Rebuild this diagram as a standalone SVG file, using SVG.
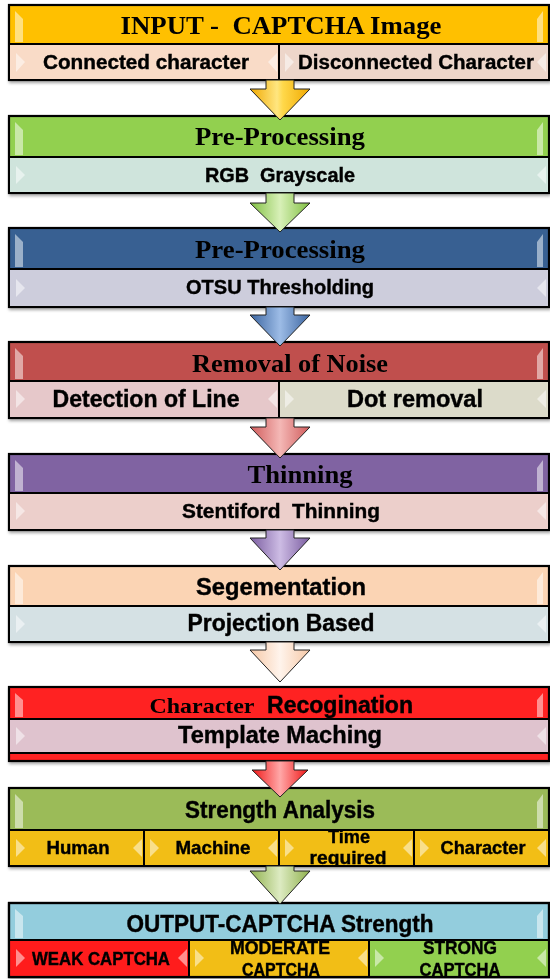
<svg xmlns="http://www.w3.org/2000/svg" width="550" height="979" viewBox="0 0 550 979">
<style>
.box{stroke:#000;stroke-width:2.2}
.cell{stroke:#000;stroke-width:2}
.hl{fill:#fff;opacity:0.5}
.serif{font-family:"Liberation Serif","Times New Roman",serif;font-weight:bold;fill:#000;white-space:pre}
.sans{font-family:"Liberation Sans",Arial,sans-serif;font-weight:bold;fill:#000;stroke:#000;stroke-width:0.4;white-space:pre}
.arrow{stroke:#222;stroke-width:1}
</style>
<defs>
<filter id="sh" x="-5%" y="-20%" width="110%" height="140%">
<feDropShadow dx="1" dy="2" stdDeviation="1.5" flood-color="#000" flood-opacity="0.35"/>
</filter>
<linearGradient id="gY" x1="0" x2="1" y1="0" y2="0"><stop offset="0" stop-color="#F0A800"/><stop offset="0.45" stop-color="#FFE680"/><stop offset="0.55" stop-color="#FFD84A"/><stop offset="1" stop-color="#F0A800"/></linearGradient>
<linearGradient id="gG" x1="0" x2="1" y1="0" y2="0"><stop offset="0" stop-color="#7FBF40"/><stop offset="0.5" stop-color="#D8F0B8"/><stop offset="1" stop-color="#7FBF40"/></linearGradient>
<linearGradient id="gB" x1="0" x2="1" y1="0" y2="0"><stop offset="0" stop-color="#3A64A0"/><stop offset="0.5" stop-color="#9DBCE6"/><stop offset="1" stop-color="#3A64A0"/></linearGradient>
<linearGradient id="gR" x1="0" x2="1" y1="0" y2="0"><stop offset="0" stop-color="#D05A5A"/><stop offset="0.5" stop-color="#F4B8B6"/><stop offset="1" stop-color="#D05A5A"/></linearGradient>
<linearGradient id="gP" x1="0" x2="1" y1="0" y2="0"><stop offset="0" stop-color="#7A5CA0"/><stop offset="0.5" stop-color="#CDBCE4"/><stop offset="1" stop-color="#7A5CA0"/></linearGradient>
<linearGradient id="gO" x1="0" x2="1" y1="0" y2="0"><stop offset="0" stop-color="#F6C8A6"/><stop offset="0.5" stop-color="#FFF4EC"/><stop offset="1" stop-color="#F6C8A6"/></linearGradient>
<linearGradient id="gRR" x1="0" x2="1" y1="0" y2="0"><stop offset="0" stop-color="#F01818"/><stop offset="0.5" stop-color="#FFA8A8"/><stop offset="1" stop-color="#F01818"/></linearGradient>
<linearGradient id="gOG" x1="0" x2="1" y1="0" y2="0"><stop offset="0" stop-color="#8FB04C"/><stop offset="0.5" stop-color="#DDEBC2"/><stop offset="1" stop-color="#8FB04C"/></linearGradient>
<clipPath id="cMod"><rect x="190" y="941" width="178" height="36"/></clipPath>
<clipPath id="cStr"><rect x="370" y="941" width="178" height="36"/></clipPath>
<clipPath id="cTime"><rect x="280" y="831" width="133" height="35"/></clipPath>
</defs>

<g id="node-input" filter="url(#sh)">
<rect class="box" x="9" y="5" width="540" height="75" fill="#FFC000"/>
<rect class="cell" x="9" y="44" width="270" height="36" fill="#F9DBC7"/>
<rect class="cell" x="279" y="44" width="270" height="36" fill="#EDD6CA"/>
<polygon class="hl" points="15,11 23,19 23,42 15,42"/><polygon class="hl" points="543,11 537,19 537,42 543,42"/>
<polygon class="hl" points="16,53 25,62 16,72"/><polygon class="hl" points="277,53 268,62 277,72"/>
<polygon class="hl" points="285,53 294,62 285,72"/><polygon class="hl" points="546,53 537,62 546,72"/>
<text class="serif" x="281" y="34" font-size="25" text-anchor="middle" textLength="321" lengthAdjust="spacingAndGlyphs">INPUT -  CAPTCHA Image</text>
<text class="sans" x="146" y="69" font-size="20" text-anchor="middle" textLength="206" lengthAdjust="spacingAndGlyphs">Connected character</text>
<text class="sans" x="416" y="69" font-size="20" text-anchor="middle" textLength="236" lengthAdjust="spacingAndGlyphs">Disconnected Character</text>
</g>

<g id="node-preprocessing-rgb" filter="url(#sh)">
<rect class="box" x="9" y="116" width="540" height="77" fill="#92D050"/>
<rect class="cell" x="9" y="157" width="540" height="36" fill="#CFE4DC"/>
<polygon class="hl" points="15,122 23,130 23,155 15,155"/><polygon class="hl" points="543,122 537,130 537,155 543,155"/>
<polygon class="hl" points="16,166 25,175 16,184"/><polygon class="hl" points="546,166 537,175 546,184"/>
<text class="serif" x="280" y="145" font-size="25" text-anchor="middle" textLength="170" lengthAdjust="spacingAndGlyphs">Pre-Processing</text>
<text class="sans" x="280" y="182" font-size="20" text-anchor="middle" textLength="150" lengthAdjust="spacingAndGlyphs">RGB  Grayscale</text>
</g>

<g id="node-preprocessing-otsu" filter="url(#sh)">
<rect class="box" x="9" y="228" width="540" height="79" fill="#376092"/>
<rect class="cell" x="9" y="269" width="540" height="38" fill="#CDCDDC"/>
<polygon class="hl" points="15,234 23,242 23,267 15,267" opacity="0.4"/><polygon class="hl" points="543,234 537,242 537,267 543,267" opacity="0.4"/>
<polygon class="hl" points="16,279 25,288 16,297"/><polygon class="hl" points="546,279 537,288 546,297"/>
<text class="serif" x="280" y="258" font-size="25" text-anchor="middle" textLength="170" lengthAdjust="spacingAndGlyphs">Pre-Processing</text>
<text class="sans" x="280" y="294" font-size="20" text-anchor="middle" textLength="188" lengthAdjust="spacingAndGlyphs">OTSU Thresholding</text>
</g>

<g id="node-noise" filter="url(#sh)">
<rect class="box" x="9" y="342" width="540" height="76" fill="#C0504D"/>
<rect class="cell" x="9" y="381" width="270" height="37" fill="#E6C8CA"/>
<rect class="cell" x="279" y="381" width="270" height="37" fill="#DCDBCA"/>
<polygon class="hl" points="15,348 23,356 23,379 15,379"/><polygon class="hl" points="543,348 537,356 537,379 543,379"/>
<polygon class="hl" points="16,390 25,399 16,408"/><polygon class="hl" points="277,390 268,399 277,408"/>
<polygon class="hl" points="285,390 294,399 285,408"/><polygon class="hl" points="546,390 537,399 546,408"/>
<text class="serif" x="290" y="372" font-size="25" text-anchor="middle" textLength="196" lengthAdjust="spacingAndGlyphs">Removal of Noise</text>
<text class="sans" x="146" y="407" font-size="23" text-anchor="middle" textLength="187" lengthAdjust="spacingAndGlyphs">Detection of Line</text>
<text class="sans" x="415" y="407" font-size="23" text-anchor="middle" textLength="136" lengthAdjust="spacingAndGlyphs">Dot removal</text>
</g>

<g id="node-thinning" filter="url(#sh)">
<rect class="box" x="9" y="454" width="540" height="76" fill="#8064A2"/>
<rect class="cell" x="9" y="493" width="540" height="37" fill="#ECCFCB"/>
<polygon class="hl" points="15,460 23,468 23,491 15,491"/><polygon class="hl" points="543,460 537,468 537,491 543,491"/>
<polygon class="hl" points="16,502 25,511 16,520"/><polygon class="hl" points="546,502 537,511 546,520"/>
<text class="serif" x="300" y="483" font-size="25" text-anchor="middle" textLength="105" lengthAdjust="spacingAndGlyphs">Thinning</text>
<text class="sans" x="281" y="518" font-size="20" text-anchor="middle" textLength="198" lengthAdjust="spacingAndGlyphs">Stentiford  Thinning</text>
</g>

<g id="node-segmentation" filter="url(#sh)">
<rect class="box" x="9" y="566" width="540" height="76" fill="#FBD4B4"/>
<rect class="cell" x="9" y="606" width="540" height="36" fill="#D5E1E4"/>
<polygon class="hl" points="15,572 23,580 23,604 15,604"/><polygon class="hl" points="543,572 537,580 537,604 543,604"/>
<polygon class="hl" points="16,615 25,624 16,633"/><polygon class="hl" points="546,615 537,624 546,633"/>
<text class="sans" x="281" y="595" font-size="23" text-anchor="middle" textLength="170" lengthAdjust="spacingAndGlyphs">Segementation</text>
<text class="sans" x="281" y="631" font-size="23" text-anchor="middle" textLength="187" lengthAdjust="spacingAndGlyphs">Projection Based</text>
</g>

<g id="node-recognition" filter="url(#sh)">
<rect class="box" x="9" y="687" width="540" height="74" fill="#FF2020"/>
<rect class="cell" x="9" y="719" width="540" height="34" fill="#DFC3CE"/>
<polygon class="hl" points="15,693 23,700 23,717 15,717"/><polygon class="hl" points="543,693 537,700 537,717 543,717"/>
<polygon class="hl" points="16,727 25,736 16,745"/><polygon class="hl" points="546,727 537,736 546,745"/>
<text class="serif" x="202" y="713" font-size="22" text-anchor="middle" textLength="105" lengthAdjust="spacingAndGlyphs">Character</text>
<text class="sans" x="340" y="713" font-size="23" text-anchor="middle" textLength="146" lengthAdjust="spacingAndGlyphs">Recogination</text>
<text class="sans" x="280" y="743" font-size="23" text-anchor="middle" textLength="204" lengthAdjust="spacingAndGlyphs">Template Maching</text>
</g>

<g id="node-strength" filter="url(#sh)">
<rect class="box" x="9" y="788" width="540" height="78" fill="#9BBB59"/>
<rect class="cell" x="9" y="830" width="135" height="36" fill="#F2BE14"/>
<rect class="cell" x="144" y="830" width="135" height="36" fill="#F2BE14"/>
<rect class="cell" x="279" y="830" width="135" height="36" fill="#F2BE14"/>
<rect class="cell" x="414" y="830" width="135" height="36" fill="#F2BE14"/>
<polygon class="hl" points="15,794 23,802 23,828 15,828"/><polygon class="hl" points="543,794 537,802 537,828 543,828"/>
<polygon class="hl" points="16,839 25,848 16,857"/><polygon class="hl" points="142,839 133,848 142,857"/>
<polygon class="hl" points="150,839 159,848 150,857"/><polygon class="hl" points="277,839 268,848 277,857"/>
<polygon class="hl" points="285,839 294,848 285,857"/><polygon class="hl" points="412,839 403,848 412,857"/>
<polygon class="hl" points="420,839 429,848 420,857"/><polygon class="hl" points="546,839 537,848 546,857"/>
<text class="sans" x="280" y="818" font-size="23" text-anchor="middle" textLength="190" lengthAdjust="spacingAndGlyphs">Strength Analysis</text>
<text class="sans" x="78" y="854" font-size="19" text-anchor="middle" textLength="63" lengthAdjust="spacingAndGlyphs">Human</text>
<text class="sans" x="213" y="854" font-size="19" text-anchor="middle" textLength="75" lengthAdjust="spacingAndGlyphs">Machine</text>
<g clip-path="url(#cTime)">
<text class="sans" x="349" y="843" font-size="19" text-anchor="middle" textLength="42" lengthAdjust="spacingAndGlyphs">Time</text>
<text class="sans" x="348" y="864" font-size="19" text-anchor="middle" textLength="77" lengthAdjust="spacingAndGlyphs">required</text>
</g>
<text class="sans" x="483" y="854" font-size="19" text-anchor="middle" textLength="85" lengthAdjust="spacingAndGlyphs">Character</text>
</g>

<g id="node-output" filter="url(#sh)">
<rect class="box" x="9" y="903" width="540" height="74" fill="#93CDDD"/>
<rect class="cell" x="9" y="940" width="180" height="37" fill="#FF1F1F"/>
<rect class="cell" x="189" y="940" width="180" height="37" fill="#F2BE14"/>
<rect class="cell" x="369" y="940" width="180" height="37" fill="#92D050"/>
<polygon class="hl" points="15,909 23,916 23,938 15,938"/><polygon class="hl" points="543,909 537,916 537,938 543,938"/>
<polygon class="hl" points="16,949 25,958 16,967"/><polygon class="hl" points="187,949 178,958 187,967"/>
<polygon class="hl" points="195,949 204,958 195,967"/><polygon class="hl" points="367,949 358,958 367,967"/>
<polygon class="hl" points="375,949 384,958 375,967"/><polygon class="hl" points="546,949 537,958 546,967"/>
<text class="sans" x="280" y="932" font-size="23" text-anchor="middle" textLength="307" lengthAdjust="spacingAndGlyphs">OUTPUT-CAPTCHA Strength</text>
<text class="sans" x="101" y="965" font-size="18" text-anchor="middle" textLength="138" lengthAdjust="spacingAndGlyphs">WEAK CAPTCHA</text>
<g clip-path="url(#cMod)">
<text class="sans" x="280" y="954" font-size="18" text-anchor="middle" textLength="100" lengthAdjust="spacingAndGlyphs">MODERATE</text>
<text class="sans" x="281" y="976" font-size="18" text-anchor="middle" textLength="78" lengthAdjust="spacingAndGlyphs">CAPTCHA</text>
</g>
<g clip-path="url(#cStr)">
<text class="sans" x="460" y="954" font-size="18" text-anchor="middle" textLength="74" lengthAdjust="spacingAndGlyphs">STRONG</text>
<text class="sans" x="460" y="976" font-size="18" text-anchor="middle" textLength="81" lengthAdjust="spacingAndGlyphs">CAPTCHA</text>
</g>
<rect x="9" y="903" width="540" height="74" fill="none" stroke="#000" stroke-width="2.2"/>
</g>

<g id="connectors">
<path class="arrow" fill="url(#gY)" d="M266,80 H294 V89 H310 L280,120 L250,89 H266 Z"/>
<path class="arrow" fill="url(#gG)" d="M266,193 H294 V203 H310 L280,232 L250,203 H266 Z"/>
<path class="arrow" fill="url(#gB)" d="M266,307 H294 V315 H310 L280,346 L250,315 H266 Z"/>
<path class="arrow" fill="url(#gR)" d="M266,418 H294 V427 H310 L280,458 L250,427 H266 Z"/>
<path class="arrow" fill="url(#gP)" d="M266,530 H294 V538 H310 L280,570 L250,538 H266 Z"/>
<path class="arrow" fill="url(#gO)" d="M266,642 H294 V650 H310 L280,682 L250,650 H266 Z"/>
<path class="arrow" fill="url(#gRR)" d="M266,761 H294 V770 H308 L280,797 L252,770 H266 Z"/>
<path class="arrow" fill="url(#gOG)" d="M266,866 H294 V871 H310 L280,904 L250,871 H266 Z"/>
</g>
</svg>
